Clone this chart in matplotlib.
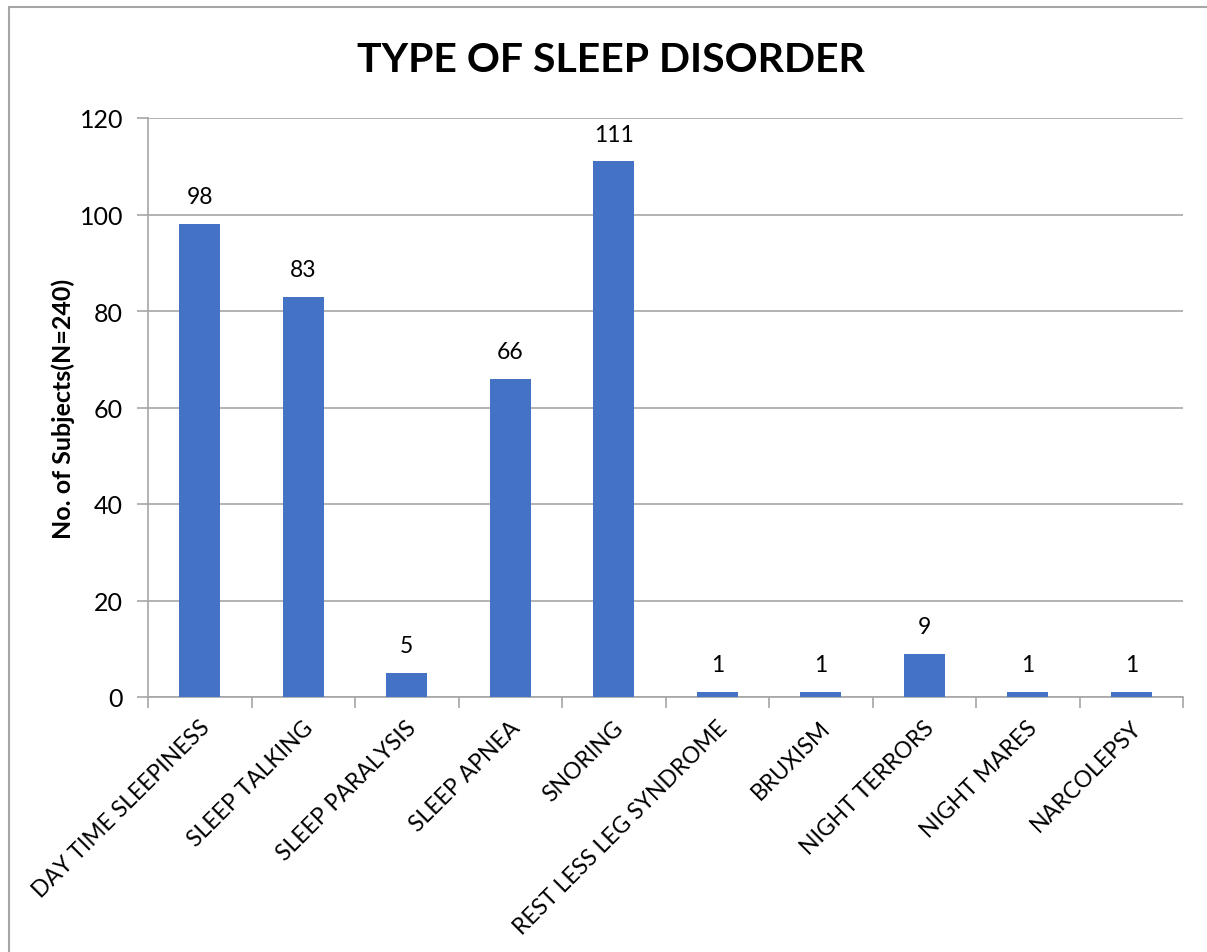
import matplotlib.pyplot as plt
from matplotlib.patches import Rectangle

# data
categories = ["DAY TIME SLEEPINESS", "SLEEP TALKING", "SLEEP PARALYSIS", "SLEEP APNEA",
              "SNORING", "REST LESS LEG SYNDROME", "BRUXISM", "NIGHT TERRORS",
              "NIGHT MARES", "NARCOLEPSY"]
counts = [98, 83, 5, 66, 111, 1, 1, 9, 1, 1]
yticks = [0, 20, 40, 60, 80, 100, 120]

plt.rcParams['font.family'] = ['Lato', 'DejaVu Sans']

W, H = 1207, 953
fig = plt.figure(figsize=(W / 100, H / 100), dpi=100)

# outer chart border (cut off on right and bottom)
fig.patches.append(Rectangle((8.5 / W, -0.05), 1.2, 1 - 7.5 / H + 0.05, transform=fig.transFigure,
                             fill=False, edgecolor='#A6A6A6', linewidth=1.5))

ax = fig.add_axes([148 / W, 1 - 698 / H, (1183 - 148) / W, (698 - 119) / H])
x = range(len(categories))
bars = ax.bar(x, counts, width=0.4, color='#4472C4', zorder=3)
for b, v in zip(bars, counts):
    ax.text(b.get_x() + b.get_width() / 2, v + 3.5, str(v), ha='center', va='bottom', fontsize=16.5)

ax.set_xlim(-0.5, len(categories) - 0.5)
ax.set_ylim(0, 120)
ax.set_yticks(yticks)
ax.set_yticklabels([str(t) for t in yticks], fontsize=18)
ax.yaxis.grid(True, color='#A6A6A6', linewidth=1.2, zorder=0)
ax.tick_params(axis='y', length=8, color='#A6A6A6', width=1.2, pad=10)

ax.set_xticks([i + 0.5 for i in range(-1, len(categories))], minor=False)
ax.set_xticklabels([])
ax.tick_params(axis='x', length=8, color='#A6A6A6', width=1.2)
for i, c in enumerate(categories):
    ax.text(i - 0.01, -4, c, rotation=45, ha='right', va='top', rotation_mode='anchor',
            fontsize=16.5)

for s in ['top', 'right']:
    ax.spines[s].set_visible(False)
for s in ['left', 'bottom']:
    ax.spines[s].set_color('#A6A6A6')
    ax.spines[s].set_linewidth(1.2)

ax.set_ylabel("No. of Subjects(N=240)", fontsize=18, fontweight='bold', labelpad=3)
fig.text(611 / W, 1 - 60 / H, "TYPE OF SLEEP DISORDER", ha='center', va='center',
         fontsize=29.5, fontweight='bold')

fig.savefig("out.png", dpi=100)
